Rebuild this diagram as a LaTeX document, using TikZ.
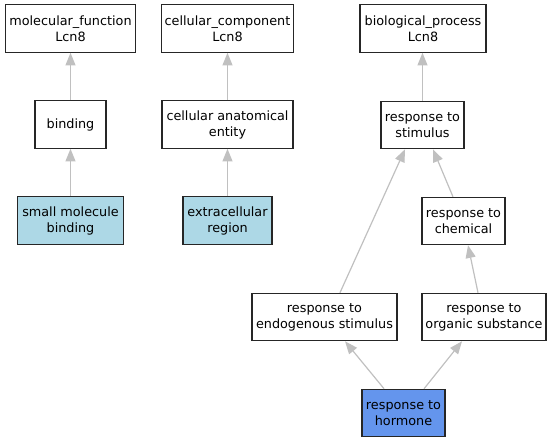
\documentclass[tikz,border=0pt]{standalone}
\usepackage{fontspec}
\setmainfont{DejaVu Sans}
\usetikzlibrary{arrows.meta}
\definecolor{edgegrey}{HTML}{C0C0C0}
\definecolor{leafblue}{HTML}{ADD8E6}
\definecolor{focusblue}{HTML}{6495ED}
\tikzset{
  term/.style={draw=black!85, line width=0.9pt, rectangle, align=center, inner sep=0pt,
    minimum height=35.5pt, font=\fontsize{9.6pt}{12pt}\selectfont, fill=white},
  leaf/.style={term, fill=leafblue},
  focus/.style={term, fill=focusblue},
  isa/.style={draw=edgegrey, line width=0.9pt, -{Triangle[length=9.5pt,width=7.5pt]}}
}
\begin{document}
\begin{tikzpicture}[x=0.75pt,y=-0.75pt]
\useasboundingbox (0,0) rectangle (551,443);
\node[term, minimum width=97.5pt] (mf) at (70.5,28.5) {molecular\_function\\Lcn8};
\node[term, minimum width=99pt] (cc) at (227.5,28.5) {cellular\_component\\Lcn8};
\node[term, minimum width=94.5pt] (bp) at (423,28.5) {biological\_process\\Lcn8};
\node[term, minimum width=53.25pt] (bind) at (70.5,124.5) {binding};
\node[term, minimum width=98.25pt] (cae) at (227.5,124.5) {cellular anatomical\\entity};
\node[term, minimum width=62.25pt] (rs) at (422.5,125) {response to\\stimulus};
\node[leaf, minimum width=79.5pt] (smb) at (70.5,220.5) {small molecule\\binding};
\node[leaf, minimum width=66.75pt] (ext) at (227.5,220.5) {extracellular\\region};
\node[term, minimum width=62.25pt] (rc) at (463.5,221) {response to\\chemical};
\node[term, minimum width=108.75pt] (res) at (324.5,317) {response to\\endogenous stimulus};
\node[term, minimum width=93pt] (ros) at (484,317) {response to\\organic substance};
\node[focus, minimum width=62.25pt] (rh) at (403.5,413) {response to\\hormone};
\draw[isa] (bind.north) -- (bind.north |- mf.south);
\draw[isa] (smb.north) -- (smb.north |- bind.south);
\draw[isa] (cae.north) -- (cae.north |- cc.south);
\draw[isa] (ext.north) -- (ext.north |- cae.south);
\draw[isa] (rs.north) -- (rs.north |- bp.south);
\draw[isa] ([xshift=11.6pt]res.north) -- ([xshift=-13.1pt]rs.south);
\draw[isa] ([xshift=-7.9pt]rc.north) -- ([xshift=7.9pt]rs.south);
\draw[isa] ([xshift=-4.5pt]ros.north) -- ([xshift=3.4pt]rc.south);
\draw[isa] ([xshift=-14.6pt]rh.north) -- ([xshift=15.4pt]res.south);
\draw[isa] ([xshift=15.4pt]rh.north) -- ([xshift=-16.5pt]ros.south);
\end{tikzpicture}
\end{document}
